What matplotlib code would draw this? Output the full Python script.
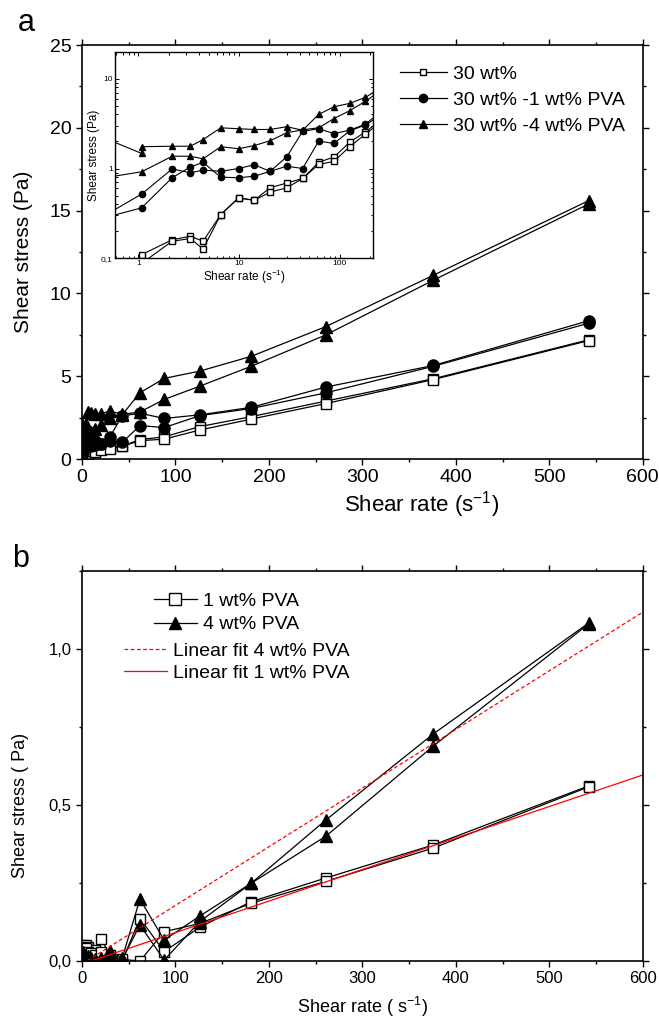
import numpy as np
import matplotlib
matplotlib.use("Agg")
import matplotlib.pyplot as plt
from matplotlib.ticker import MultipleLocator, FuncFormatter, LogLocator, NullFormatter

plt.rcParams['font.family'] = ['Liberation Sans', 'DejaVu Sans']
plt.rcParams['mathtext.fontset'] = 'custom'
plt.rcParams['mathtext.rm'] = 'Liberation Sans'
plt.rcParams['mathtext.default'] = 'regular'

# shear rates (1/s)
rate = [1.08, 2.17, 3.29, 4.4, 6.6, 9.9, 14.2, 20.4, 29.9, 43, 62, 88, 126, 181, 261, 376, 542]
rate0 = [0.5] + rate
rate_t = [0.5, 1.08] + rate

# panel a: shear stress (Pa)
pure_1 = [0.110, 0.161, 0.176, 0.155, 0.307, 0.47, 0.443, 0.61, 0.69, 0.774, 1.175, 1.34, 1.96, 2.56, 3.5, 4.85, 7.2]
pure_2 = [0.088, 0.155, 0.166, 0.127, 0.307, 0.47, 0.443, 0.545, 0.61, 0.774, 1.11, 1.2, 1.75, 2.41, 3.35, 4.8, 7.15]
pva1_1 = [0.315, 0.52, 0.99, 0.895, 0.96, 0.93, 1.0, 1.10, 0.93, 1.06, 1.0, 2.02, 1.90, 2.62, 3.05, 4.0, 5.6, 8.2]
pva1_2 = [0.29, 0.365, 0.79, 1.04, 1.17, 0.80, 0.79, 0.82, 0.93, 1.35, 2.6, 2.77, 2.45, 2.67, 3.12, 4.35, 5.65, 8.35]
pva4_1 = [2.1, 1.47, 1.75, 1.77, 1.77, 2.10, 2.84, 2.77, 2.72, 2.72, 2.92, 2.67, 4.0, 4.87, 5.31, 6.2, 8.0, 11.1, 15.6]
pva4_2 = [0.80, 0.92, 1.37, 1.37, 1.28, 1.75, 1.66, 1.80, 2.04, 2.50, 2.70, 2.84, 3.6, 4.4, 5.6, 7.5, 10.8, 15.4]

# panel b: PVA contribution (Pa)
b_pva1_1 = [0.05, 0.045, 0.04, 0.051, 0.045, 0.03, 0.035, 0.07, 0.02, 0.0, 0.136, 0.03, 0.108, 0.19, 0.266, 0.372, 0.561]
b_pva1_2 = [0.04, 0.035, 0.03, 0.04, 0.03, 0.025, 0.02, 0.03, 0.01, 0.005, 0.0, 0.094, 0.12, 0.185, 0.255, 0.362, 0.558]
b_pva4_1 = [0.02, 0.01, 0.005, 0.01, 0.015, 0.01, 0.005, 0.008, 0.033, 0.009, 0.198, 0.067, 0.144, 0.249, 0.452, 0.728, 1.083]
b_pva4_2 = [0.03, 0.02, 0.01, 0.005, 0.01, 0.005, 0.0, 0.005, 0.02, 0.005, 0.115, 0.003, 0.126, 0.249, 0.40, 0.689, 1.08]
fit4 = (0.00188, -0.01)
fit1 = (0.00101, -0.01)

comma = FuncFormatter(lambda v, p: ('%g' % v).replace('.', ','))
comma1 = FuncFormatter(lambda v, p: ('%.1f' % v).replace('.', ','))

fig = plt.figure(figsize=(6.59, 10.21), dpi=100)

def style(ax, size):
    for s in ax.spines.values():
        s.set_linewidth(1.2)
    ax.tick_params(which='both', direction='out', top=True, right=True, labeltop=False, labelright=False, width=1.0, labelsize=size)
    ax.tick_params(which='major', length=4)
    ax.tick_params(which='minor', length=2.5)

# ---- panel a
ax = fig.add_axes([0.1244, 0.5504, 0.851, 0.4055])
line = dict(color='black', lw=0.9)
ax.plot(rate, pure_1, marker='s', ms=7, mfc='white', mec='black', **line)
ax.plot(rate, pure_2, marker='s', ms=7, mfc='white', mec='black', **line)
ax.plot(rate0, pva1_1, marker='o', ms=8, mfc='black', mec='black', **line)
ax.plot(rate0, pva1_2, marker='o', ms=8, mfc='black', mec='black', **line)
ax.plot(rate_t, pva4_1, marker='^', ms=8.5, mfc='black', mec='black', **line)
ax.plot(rate0, pva4_2, marker='^', ms=8.5, mfc='black', mec='black', **line)
ax.set_xlim(0, 600)
ax.set_ylim(0, 25)
ax.xaxis.set_major_locator(MultipleLocator(100))
ax.xaxis.set_minor_locator(MultipleLocator(50))
ax.yaxis.set_major_locator(MultipleLocator(5))
ax.yaxis.set_minor_locator(MultipleLocator(2.5))
style(ax, 14)
ax.set_xlabel('Shear rate (s$^{-1}$)', fontsize=16, labelpad=2, x=0.606)
ax.set_ylabel('Shear stress (Pa)', fontsize=15, labelpad=12)

h1, = ax.plot([], [], marker='s', ms=5, mfc='white', mec='black', **line)
h2, = ax.plot([], [], marker='o', ms=6, mfc='black', mec='black', **line)
h3, = ax.plot([], [], marker='^', ms=6, mfc='black', mec='black', **line)
ax.legend([h1, h2, h3], ['30 wt%', '30 wt% -1 wt% PVA', '30 wt% -4 wt% PVA'],
          loc='upper left', bbox_to_anchor=(0.567, 0.952), frameon=False, fontsize=14,
          handlelength=2.4, handletextpad=0.35, labelspacing=0.45, borderpad=0, borderaxespad=0)

# inset
ins = fig.add_axes([0.1745, 0.747, 0.3915, 0.2024])
sl = dict(color='black', lw=0.8)
ins.plot(rate, pure_1, marker='s', ms=4, mfc='white', mec='black', **sl)
ins.plot(rate, pure_2, marker='s', ms=4, mfc='white', mec='black', **sl)
ins.plot(rate0, pva1_1, marker='o', ms=4.5, mfc='black', mec='black', **sl)
ins.plot(rate0, pva1_2, marker='o', ms=4.5, mfc='black', mec='black', **sl)
ins.plot(rate_t, pva4_1, marker='^', ms=5, mfc='black', mec='black', **sl)
ins.plot(rate0, pva4_2, marker='^', ms=5, mfc='black', mec='black', **sl)
ins.set_xscale('log')
ins.set_yscale('log')
ins.set_xlim(0.586, 215)
ins.set_ylim(0.1, 20)
ins.yaxis.set_major_formatter(comma)
ins.xaxis.set_major_formatter(FuncFormatter(lambda v, p: '%g' % v))
ins.xaxis.set_minor_formatter(NullFormatter())
ins.yaxis.set_minor_formatter(NullFormatter())
ins.xaxis.set_minor_locator(LogLocator(subs=np.arange(2, 10)))
ins.yaxis.set_minor_locator(LogLocator(subs=np.arange(2, 10)))
for s in ins.spines.values():
    s.set_linewidth(1.0)
ins.tick_params(which='both', direction='in', top=True, right=True, labelsize=6, pad=1.5, width=0.7)
ins.tick_params(which='major', length=3)
ins.tick_params(which='minor', length=1.8)
ins.set_xlabel('Shear rate (s$^{-1}$)', fontsize=8.5, labelpad=0)
ins.set_ylabel('Shear stress (Pa)', fontsize=8.5, labelpad=1)

# ---- panel b
bx = fig.add_axes([0.1244, 0.0588, 0.851, 0.382])
bx.plot(rate, b_pva1_1, marker='s', ms=6.5, mfc='white', mec='black', **line)
bx.plot(rate, b_pva1_2, marker='s', ms=6.5, mfc='white', mec='black', **line)
bx.plot(rate, b_pva4_1, marker='^', ms=8, mfc='black', mec='black', **line)
bx.plot(rate, b_pva4_2, marker='^', ms=8, mfc='black', mec='black', **line)
xf = np.linspace(0, 600, 2)
f4, = bx.plot(xf, fit4[0] * xf + fit4[1], color='red', lw=0.9, ls=(0, (3, 2)))
f1, = bx.plot(xf, fit1[0] * xf + fit1[1], color='red', lw=0.9)
bx.set_xlim(0, 600)
bx.set_ylim(0, 1.25)
bx.xaxis.set_major_locator(MultipleLocator(100))
bx.xaxis.set_minor_locator(MultipleLocator(50))
bx.yaxis.set_major_locator(MultipleLocator(0.5))
bx.yaxis.set_minor_locator(MultipleLocator(0.25))
bx.yaxis.set_major_formatter(comma1)
style(bx, 12)
bx.set_xlabel('Shear rate ( s$^{-1}$)', fontsize=13, labelpad=6)
bx.set_ylabel('Shear stress ( Pa)', fontsize=13, labelpad=14, y=0.40)

g1, = bx.plot([], [], marker='s', ms=8, mfc='white', mec='black', **line)
g2, = bx.plot([], [], marker='^', ms=9, mfc='black', mec='black', **line)
leg1 = bx.legend([g1, g2], ['1 wt% PVA', '4 wt% PVA'], loc='upper left',
                 bbox_to_anchor=(0.128, 0.945), frameon=False, fontsize=14,
                 handlelength=2.2, handletextpad=0.35, labelspacing=0.3, borderpad=0, borderaxespad=0)
bx.add_artist(leg1)
bx.legend([f4, f1], ['Linear fit 4 wt% PVA', 'Linear fit 1 wt% PVA'], loc='upper left',
          bbox_to_anchor=(0.075, 0.818), frameon=False, fontsize=14,
          handlelength=2.2, handletextpad=0.3, labelspacing=0.25, borderpad=0, borderaxespad=0)

fig.text(0.027, 0.992, 'a', fontsize=22, va='top')
fig.text(0.018, 0.467, 'b', fontsize=22, va='top')

fig.savefig('out.png', dpi=100)
